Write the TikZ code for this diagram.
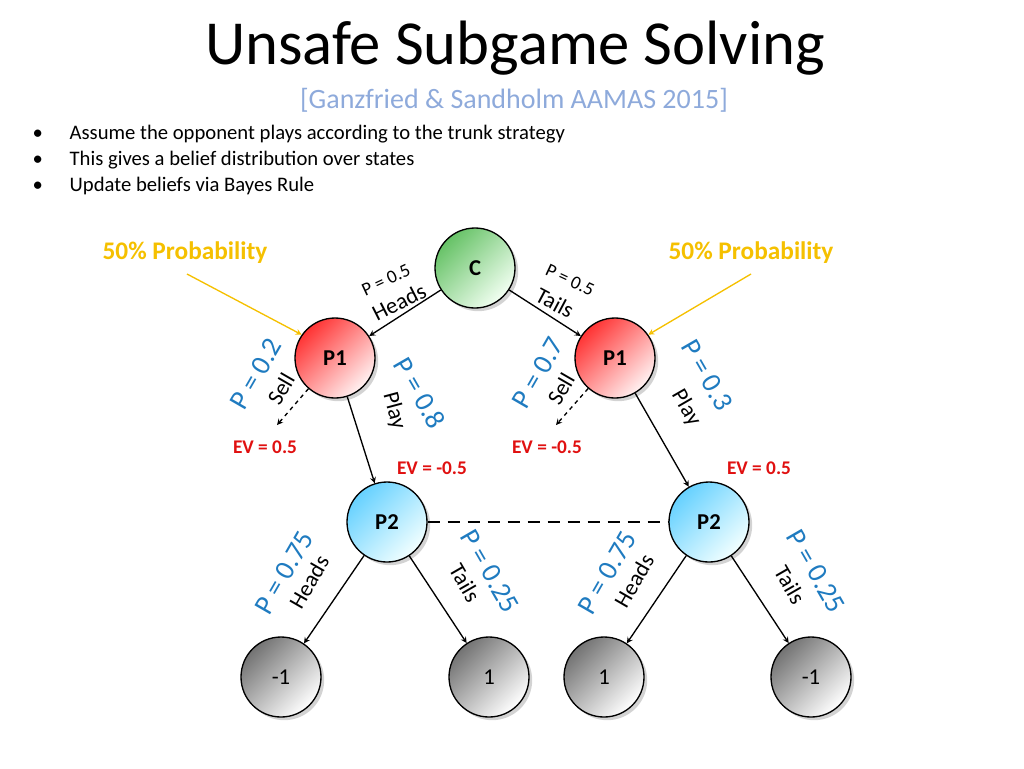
\documentclass[tikz,border=0pt]{standalone}
\usepackage{fontspec}
\setmainfont{Carlito}
\usetikzlibrary{positioning,shadows}
\definecolor{probblue}{HTML}{1F7BC0}
\definecolor{evred}{HTML}{E01010}
\definecolor{gold}{HTML}{F5C000}
\definecolor{refblue}{HTML}{8EAADB}
\tikzset{
  state/.style={circle,draw,line width=1pt,minimum size=60pt,inner sep=0pt,font=\fontsize{17}{17}\selectfont\bfseries,drop shadow={opacity=0.35}},
  chance/.style={state,top color=green!60!black!60,bottom color=green!5,shading angle=45},
  pone/.style={state,top color=red!80,bottom color=red!5,shading angle=45},
  ptwo/.style={state,top color=cyan!70!blue!60,bottom color=cyan!5,shading angle=45},
  leaf/.style={state,top color=black!55,bottom color=white,shading angle=45,font=\fontsize{17}{17}\selectfont},
  prob/.style={text=probblue,font=\fontsize{21}{21}\selectfont},
  act/.style={font=\fontsize{17}{17}\selectfont},
  ev/.style={text=evred,font=\fontsize{14.5}{14.5}\selectfont\bfseries},
  edge/.style={->,>=stealth,line width=1pt}
}
\begin{document}
\begin{tikzpicture}[x=0.75pt,y=0.75pt,yscale=-1,xscale=1]
\useasboundingbox (0,0) rectangle (1024,768);
% title
\node (title) at (515,48) {\fontsize{47}{47}\selectfont Unsafe Subgame Solving};
\node[text=refblue] (ref) at (514,100) {\fontsize{21}{21}\selectfont [Ganzfried \& Sandholm AAMAS 2015]};
\node[anchor=west,align=left,font=\fontsize{15.5}{19.5}\selectfont] (bullets) at (28,160) {%
  •\hspace{20pt}Assume the opponent plays according to the trunk strategy\\
  •\hspace{20pt}This gives a belief distribution over states\\
  •\hspace{20pt}Update beliefs via Bayes Rule};
% nodes
\node[chance] (c) at (475,268) {C};
\node[pone] (p1l) at (335,358) {P1};
\node[pone] (p1r) at (615,358) {P1};
\node[ptwo] (p2l) at (387,522) {P2};
\node[ptwo] (p2r) at (709,522) {P2};
\node[leaf] (l1) at (281,677) {-1};
\node[leaf] (l2) at (489,677) {1};
\node[leaf] (l3) at (604,677) {1};
\node[leaf] (l4) at (811,677) {-1};
\coordinate (sellL) at (277,425);
\coordinate (sellR) at (556,425);
% probability callouts
\node[text=gold,font=\fontsize{19}{19}\selectfont\bfseries] (probl) at (185,253) {50\% Probability};
\node[text=gold,font=\fontsize{19}{19}\selectfont\bfseries] (probr) at (751,253) {50\% Probability};
\draw[->,>=stealth,gold,line width=1pt] (187,274) -- (p1l.145);
\draw[->,>=stealth,gold,line width=1pt] (751,274) -- (p1r.35);
% edges
\draw[edge] (c) -- (p1l);
\draw[edge] (c) -- (p1r);
\draw[edge,dashed] (p1l) -- (sellL);
\draw[edge,dashed] (p1r) -- (sellR);
\draw[edge] (p1l) -- (p2l);
\draw[edge] (p1r) -- (p2r);
\draw[edge] (p2l) -- (l1);
\draw[edge] (p2l) -- (l2);
\draw[edge] (p2r) -- (l3);
\draw[edge] (p2r) -- (l4);
\draw[line width=1.2pt,dash pattern=on 9pt off 6pt] (p2l) -- (p2r);
% edge labels
\node[act,font=\fontsize{14}{14}\selectfont,rotate=25] (pa) at (386,280) {P = 0.5};
\node[act,rotate=27] (ha) at (399,302) {Heads};
\node[act,font=\fontsize{14}{14}\selectfont,rotate=-25] (pb) at (570,280) {P = 0.5};
\node[act,rotate=-28] (ta) at (555,303) {Tails};
\node[prob,rotate=60] (p02) at (256,374) {P = 0.2};
\node[act,rotate=60] (s1) at (281,389) {Sell};
\node[prob,rotate=-60] (p08) at (420,393) {P = 0.8};
\node[act,rotate=-75] (pl1) at (394,411) {Play};
\node[prob,rotate=60] (p07) at (538,373) {P = 0.7};
\node[act,rotate=60] (s2) at (561,389) {Sell};
\node[prob,rotate=-60] (p03) at (707,375) {P = 0.3};
\node[act,rotate=-60] (pl2) at (686,408) {Play};
\node[prob,rotate=60] (q1) at (284,573) {P = 0.75};
\node[act,rotate=60] (h1) at (309,582) {Heads};
\node[prob,rotate=-60] (q2) at (490,571) {P = 0.25};
\node[act,rotate=-60] (t1) at (465,583) {Tails};
\node[prob,rotate=60] (q3) at (607,573) {P = 0.75};
\node[act,rotate=60] (h2) at (634,581) {Heads};
\node[prob,rotate=-60] (q4) at (816,571) {P = 0.25};
\node[act,rotate=-60] (t2) at (790,585) {Tails};
% values
\node[ev] (ev1) at (265,447) {EV = 0.5};
\node[ev] (ev2) at (432,468) {EV = -0.5};
\node[ev] (ev3) at (547,447) {EV = -0.5};
\node[ev] (ev4) at (759,468) {EV = 0.5};
\end{tikzpicture}
\end{document}
